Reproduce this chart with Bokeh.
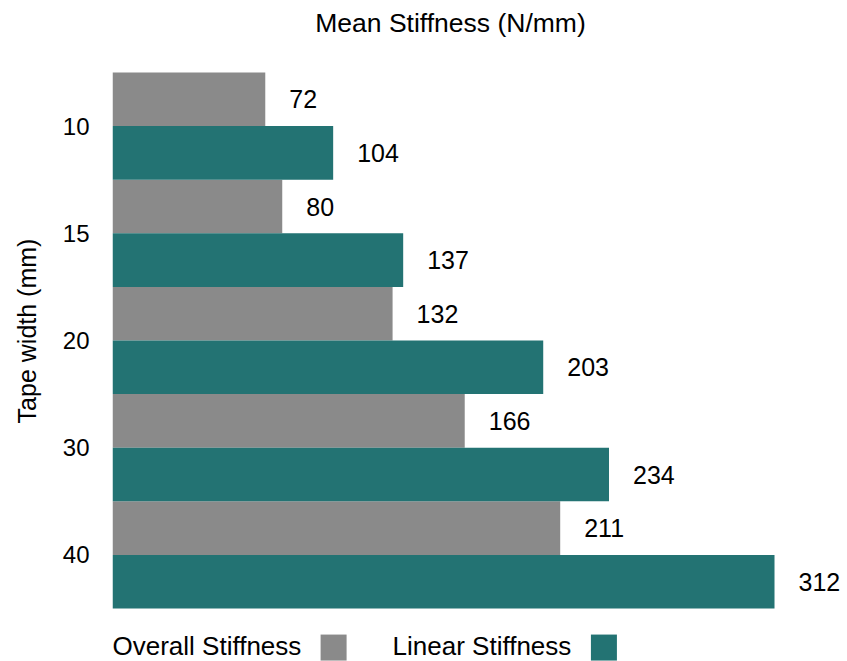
from bokeh.plotting import figure
from bokeh.models import ColumnDataSource, Range1d, FixedTicker, Label
from bokeh.embed import file_html
from bokeh.resources import INLINE

categories = ["10", "15", "20", "30", "40"]
overall = [72, 80, 132, 166, 211]
linear = [104, 137, 203, 234, 312]
series_names = ["Overall Stiffness", "Linear Stiffness"]
colors = ["#8a8a8a", "#237373"]

FONT = "Liberation Sans"

pos = [-i for i in range(len(categories))]
src_o = ColumnDataSource(dict(y=[p + 0.25 for p in pos], v=overall, t=[str(v) for v in overall]))
src_l = ColumnDataSource(dict(y=[p - 0.25 for p in pos], v=linear, t=[str(v) for v in linear]))

p = figure(width=847, height=661, output_backend="svg", toolbar_location=None,
           x_range=Range1d(0, 346.4), y_range=Range1d(-4.994, 1.1716),
           x_axis_location=None, min_border_left=112, min_border_right=0,
           min_border_top=0, min_border_bottom=0)
p.outline_line_color = None
p.grid.visible = False

p.hbar(y="y", right="v", left=0, height=0.5, source=src_o, fill_color=colors[0], line_color=None)
p.hbar(y="y", right="v", left=0, height=0.5, source=src_l, fill_color=colors[1], line_color=None)

for s in (src_o, src_l):
    p.text(x="v", y="y", text="t", source=s, x_offset=24, text_baseline="middle",
           text_align="left", text_font_size="25px", text_color="black",
           text_font={"value": FONT})

ax = p.yaxis[0]
ax.ticker = FixedTicker(ticks=pos)
ax.major_label_overrides = {p_: c for p_, c in zip(pos, categories)}
ax.axis_line_color = None
ax.major_tick_line_color = None
ax.minor_tick_line_color = None
ax.major_tick_out = 0
ax.major_tick_in = 0
ax.major_label_standoff = 23
ax.major_label_text_font = FONT
ax.major_label_text_font_size = "24px"
ax.major_label_text_color = "black"
ax.axis_label = "Tape width (mm)"
ax.axis_label_text_font = FONT
ax.axis_label_text_font_size = "25px"
ax.axis_label_text_font_style = "normal"
ax.axis_label_text_color = "black"
ax.axis_label_standoff = 19

p.add_layout(Label(x=159.3, y=0.966, text="Mean Stiffness (N/mm)", text_align="center",
                   text_baseline="middle", text_font=FONT, text_font_size="26.5px",
                   text_color="black"))

leg_text_x = [0.0, 132.0]
leg_box_x = [104.2, 231.6]
leg_y = -4.845
for name, col, tx, bx in zip(series_names, colors, leg_text_x, leg_box_x):
    p.add_layout(Label(x=tx, y=leg_y, text=name, text_align="left", text_baseline="middle",
                       text_font=FONT, text_font_size="26px", text_color="black"))
    p.scatter(x=[bx], y=[-4.864], marker="square", size=26, fill_color=col, line_color=None)

open("out.html", "w").write(file_html(p, INLINE))
